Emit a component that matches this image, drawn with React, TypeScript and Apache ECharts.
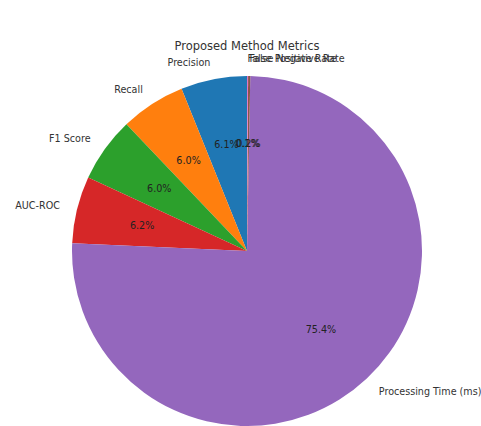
import React, { useEffect, useRef } from "react";
import * as echarts from "echarts";

const categories = [
  "Precision",
  "Recall",
  "F1 Score",
  "AUC-ROC",
  "Processing Time (ms)",
  "False Negative Rate",
  "False Positive Rate",
];
const percentValues = [6.1, 6.0, 6.0, 6.2, 75.4, 0.2, 0.1];
const sliceColors = ["#1f77b4", "#ff7f0e", "#2ca02c", "#d62728", "#9467bd", "#8c564b", "#e377c2"];
const chartTitle = "Proposed Method Metrics";

export default function App() {
  const ref = useRef<HTMLDivElement>(null);
  useEffect(() => {
    if (!ref.current) return;
    const chart = echarts.init(ref.current, null, { renderer: "svg" });
    const R = 175;
    const C = [247, 251];
    const font = "DejaVu Sans";
    const data = categories.map((name, i) => ({
      name,
      value: percentValues[i],
      itemStyle: { color: sliceColors[i] },
    }));
    chart.setOption({
      animation: false,
      backgroundColor: "#ffffff",
      title: {
        text: chartTitle,
        left: 247,
        top: 40,
        padding: 0,
        textAlign: "center",
        textStyle: { fontFamily: font, fontSize: 11.5, fontWeight: "normal", color: "#333" },
      },
      series: [
        {
          type: "pie",
          center: C,
          radius: [0, R],
          startAngle: 90,
          clockwise: false,
          avoidLabelOverlap: false,
          minShowLabelAngle: 0,
          labelLayout: { hideOverlap: false },
          silent: true,
          data,
          label: {
            show: true,
            position: "outside",
            formatter: "{b}",
            fontFamily: font,
            fontSize: 9.6,
            color: "#333",
            distanceToLabelLine: 0,
            overflow: "none",
            bleedMargin: 0,
          },
          labelLine: { show: false, length: R * 0.1, length2: 0 },
        },
        {
          type: "pie",
          center: C,
          radius: [0, R * 1.2],
          startAngle: 90,
          clockwise: false,
          avoidLabelOverlap: false,
          minShowLabelAngle: 0,
          labelLayout: { hideOverlap: false },
          silent: true,
          z: 5,
          data: categories.map((name, i) => ({
            name,
            value: percentValues[i],
            itemStyle: { color: "rgba(0,0,0,0)" },
          })),
          label: {
            show: true,
            position: "inner",
            formatter: (p: any) => p.value.toFixed(1) + "%",
            fontFamily: font,
            fontSize: 9.6,
            color: "#222",
          },
          labelLine: { show: false },
        },
      ],
    });
    return () => chart.dispose();
  }, []);
  return (
    <div
      ref={ref}
      style={{ position: "fixed", left: 0, top: 0, width: 481, height: 426, background: "#fff" }}
    />
  );
}
